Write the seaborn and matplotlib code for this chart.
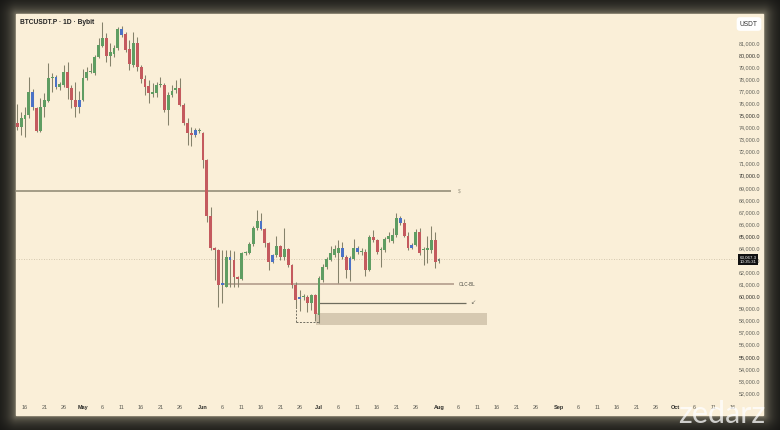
import numpy as np
import pandas as pd
import matplotlib
matplotlib.use("Agg")
import matplotlib.pyplot as plt
import matplotlib.dates as mdates
import matplotlib.transforms as mtransforms
from matplotlib.patches import Rectangle
import seaborn as sns

# daily candles, Apr 14 -> Aug 1
dates = pd.date_range("2024-04-14", "2024-08-01", freq="D")

opens = [74340, 74070, 74700, 75030, 76970, 75590, 73710, 75720, 76220, 78120,
         78160, 77330, 77520, 78620, 77300, 76280, 75670, 76280, 78070, 78600,
         78490, 79810, 80750, 81390, 79920, 80090, 80560, 82130, 81720, 80480,
         79180, 81030, 79040, 78020, 77440, 76770, 76830, 77500, 77520, 75450,
         76690, 77110, 77240, 75860, 74400, 73570, 73380, 73740,
         73570, 71310, 66670, 64020, 63850, 60950, 60780, 63270, 63020, 61610,
         61450, 63600, 63600, 64350, 65670, 66250, 65590, 64430, 62860, 63440,
         64180, 63270, 63930, 62610, 60950, 59960, 59930, 59960, 59460, 60120,
         58460, 61360, 62440, 63020, 63440, 63600, 64020, 63270, 62190, 63100,
         64020, 63680, 63680, 62190, 64930, 64680, 63830, 63850, 64760, 64600,
         65090, 66500, 66090, 65010, 64260, 64260, 65340, 63850, 63850, 63850,
         64680, 62940]
highs = [75950, 75310, 75720, 78210, 77160, 75720, 76420, 76830, 79320, 78540,
         78350, 77800, 79180, 79430, 77520, 77800, 77050, 78820, 79040, 79320,
         80010, 81390, 82770, 81800, 80970, 80830, 82350, 82410, 81940, 81250,
         81940, 81520, 79180, 78350, 77930, 77660, 77800, 78160, 77660, 76970,
         77520, 77930, 78070, 76000, 74760, 74070, 73930, 73930,
         73650, 71400, 67400, 64100, 63900, 63850, 63880, 63880, 63800, 61700,
         63700, 63800, 64500, 65800, 67160, 66900, 65700, 64500, 63500, 64990,
         64300, 65670, 64000, 62700, 61200, 60500, 60200, 60100, 60200, 60200,
         61700, 62700, 63300, 64200, 64300, 64680, 64500, 63400, 63350, 64800,
         64200, 64020, 63900, 65100, 65500, 64800, 64100, 64900, 65300, 65670,
         66920, 66700, 66400, 65300, 64400, 65600, 65700, 64100, 65000, 65800,
         65340, 63200]
lows = [73790, 73380, 73240, 74760, 75450, 73650, 73650, 74840, 76140, 76970,
        77160, 77110, 77380, 76330, 75590, 74900, 75170, 76220, 77930, 78490,
        78350, 79730, 80700, 79450, 79090, 79870, 80420, 81520, 80280, 78760,
        79040, 78680, 77660, 76690, 76000, 76550, 76500, 77380, 75310, 74210,
        76550, 76830, 75780, 74210, 72550, 72470, 73240, 73520,
        70640, 66170, 63850, 61360, 59130, 59460, 60780, 60800, 60800, 60800,
        61400, 63400, 63500, 64200, 65500, 65500, 64100, 62190, 62800, 63300,
        63000, 63000, 62400, 60700, 59050, 58800, 59700, 58700, 58900, 58000,
        57800, 61200, 62300, 62900, 63300, 61120, 63100, 61530, 61300, 63000,
        63500, 63440, 61700, 62100, 64500, 63500, 62440, 63700, 64500, 64430,
        64900, 65900, 64900, 63850, 63900, 64200, 63440, 62610, 62800, 63600,
        62360, 62800]
closes = [74010, 74760, 75030, 76970, 75670, 73740, 75720, 76280, 78070, 78160,
          77330, 77580, 78620, 77240, 76280, 75670, 76280, 78130, 78620, 78650,
          79810, 80830, 81390, 79920, 80230, 80610, 82130, 81660, 80420, 79230,
          81030, 79040, 78020, 77330, 76880, 76970, 77520, 77540, 75450, 76690,
          77050, 77300, 75860, 74340, 73570, 73380, 73790, 73760,
          71310, 66670, 64020, 63850, 60950, 61100, 63270, 63020, 61610, 61450,
          63600, 63650, 64350, 65670, 66250, 65590, 64430, 62860, 63440, 64180,
          63270, 63930, 62610, 60950, 59710, 59790, 59980, 59460, 60120, 58550,
          61530, 62440, 63100, 63600, 63930, 64020, 63270, 62190, 63190, 64020,
          63680, 63700, 62190, 64930, 64680, 63680, 63870, 64760, 65010, 65090,
          66500, 66090, 65010, 64020, 64020, 65340, 63600, 63900, 64020, 64680,
          62860, 63067.3]
candle_kind = list("rgggbrgggg" "bggrrrbggg" "gggrgggbrr" "grrrrgggrg"
                   "ggrrrrbg"
                   "rrrrrbgbrr" "gggggbrrbg" "rgrrrbgrgr" "ggggggbrbg"
                   "bgrgrrgggg" "gbrrbgrggg" "rk")

# chart levels
level_s = 68770
olc_bl = 61000
lower_level = 59500
zone_top, zone_bottom = 58630, 57640
box_top, box_bottom = 59700, 57880
last_price = 63067.3

y_ticks = list(range(52000, 82000, 1000))

cream = "#faefd8"
kind_colors = {"g": "#5f9d62", "r": "#c45a5e", "b": "#4b72c6", "k": "#6f8078"}

sns.set_theme(style="white", rc={"axes.facecolor": cream, "figure.facecolor": "#121210"})
plt.rcParams["font.family"] = ["Liberation Sans", "DejaVu Sans"]

W, H = 780, 430
fig = plt.figure(figsize=(7.8, 4.3), dpi=100)

# dark vignette frame with a soft glow around the panel
yy, xx = np.mgrid[0:H, 0:W]
dx = np.maximum(np.maximum(16 - xx, xx - 763), 0)
dy = np.maximum(np.maximum(14 - yy, yy - 415), 0)
glow = np.exp(-np.hypot(dx, dy) / 8.0)
dark = np.array([0.07, 0.07, 0.065])
light = np.array([0.48, 0.46, 0.39])
frame = dark + (light - dark) * glow[..., None]
fig.figimage(frame, 0, 0, origin="upper", zorder=-5)
fig.add_artist(Rectangle((16 / W, 1 - 415 / H), (763 - 16) / W, (415 - 14) / H,
                         transform=fig.transFigure, color=cream, zorder=-4))

ax = fig.add_axes([16 / W, 1 - 400 / H, (737 - 16) / W, (400 - 14) / H], zorder=1)

df = pd.DataFrame({"date": dates, "open": opens, "high": highs, "low": lows,
                   "close": closes, "kind": candle_kind})
df["x"] = mdates.date2num(df["date"])
df["bottom"] = df[["open", "close"]].min(axis=1)
df["height"] = (df["open"] - df["close"]).abs().clip(lower=70)
df["color"] = df["kind"].map(kind_colors)

ax.vlines(df["x"], df["low"], df["high"], color="#85826b", lw=0.75, zorder=2)
ax.bar(df["x"], df["height"], bottom=df["bottom"], width=0.74,
       color=df["color"], linewidth=0, zorder=3)

d = lambda s: mdates.date2num(pd.Timestamp(s))

# level lines and zones
ax.hlines(level_s, d("2024-04-10"), d("2024-08-04"), color="#a39c86", lw=1.4, zorder=1)
ax.text(d("2024-08-06"), level_s, "$", fontsize=3.5, color="#9a9480", va="center")
ax.hlines(olc_bl, d("2024-06-06"), d("2024-08-05"), color="#ad9585", lw=1.1, zorder=1)
ax.text(d("2024-08-06"), olc_bl, "OLC-BL", fontsize=3.3, color="#4a4a42",
        va="center")
ax.hlines(lower_level, d("2024-07-01"), d("2024-08-08"), color="#6e6c5e", lw=0.9, zorder=1)
ax.text(d("2024-08-09"), lower_level, "\u2199", fontsize=4.5, color="#7a776a", va="center")
ax.add_patch(Rectangle((d("2024-06-30") + 0.3, zone_bottom),
                       d("2024-08-13") - d("2024-06-30"), zone_top - zone_bottom,
                       color="#d6c9b1", lw=0, zorder=1))
ax.vlines(d("2024-06-25"), box_bottom, box_top, color="#6f6c60", lw=0.7,
          linestyles=(0, (2, 1.5)), zorder=1)
ax.hlines(box_bottom, d("2024-06-25"), d("2024-07-01"), color="#6f6c60", lw=0.7,
          linestyles=(0, (2, 1.5)), zorder=1)
ax.axhline(last_price, color="#c8bba2", lw=0.6, ls=(0, (1, 2)), zorder=0.5)

ax.set_xlim(d("2024-04-16") - 2.33, d("2024-04-16") + 184.03)
ax.set_ylim(51422, 83403)

# time axis ticks every 5 days, month name on the 1st
tick_dates = [t for t in pd.date_range("2024-04-14", "2024-10-17", freq="D")
              if t.day in (1, 6, 11, 16, 21, 26)]
ax.set_xticks(mdates.date2num(tick_dates))
ax.set_xticklabels([t.strftime("%b") if t.day == 1 else str(t.day) for t in tick_dates])
for lab, t in zip(ax.get_xticklabels(), tick_dates):
    lab.set_color("#2e2e2a" if t.day == 1 else "#5a5a52")
    lab.set_fontweight("bold" if t.day == 1 else "normal")
ax.tick_params(axis="x", length=0, pad=3.8, labelsize=4)

ax.yaxis.tick_right()
ax.set_yticks(y_ticks)
ax.set_yticklabels([f"{v:,.1f}" for v in y_ticks])
for lab, v in zip(ax.get_yticklabels(), y_ticks):
    lab.set_color("#2e2e2a" if v % 5000 == 0 else "#5e5e56")
ax.tick_params(axis="y", length=0, pad=1.5, labelsize=3.9)
for s in ax.spines.values():
    s.set_visible(False)

# last price tag
trans = mtransforms.blended_transform_factory(ax.transAxes, ax.transData)
ax.text(1.004, last_price, "63,067.3\n10:35:31", transform=trans, fontsize=3.2,
        color="white", va="center", ha="left", linespacing=1.1, zorder=5,
        bbox=dict(boxstyle="square,pad=0.35", fc="#111111", ec="none"))

fig.text(20 / W, 1 - 23 / H, "BTCUSDT.P \u00b7 1D \u00b7 Bybit", fontsize=4.8,
         fontweight="bold", color="#222222", va="center", ha="left")
fig.text(749 / W, 1 - 24 / H, "USDT", fontsize=4.8, color="#333333", va="center",
         ha="center", bbox=dict(boxstyle="round,pad=0.5", fc="white", ec="none"))

fig.text(722 / W, 1 - 414 / H, "zedarz", fontsize=22, color="white", alpha=0.75,
         family=["Lato", "DejaVu Sans"], ha="center", va="center", zorder=10)

fig.savefig("out.png", dpi=100, facecolor=fig.get_facecolor())
